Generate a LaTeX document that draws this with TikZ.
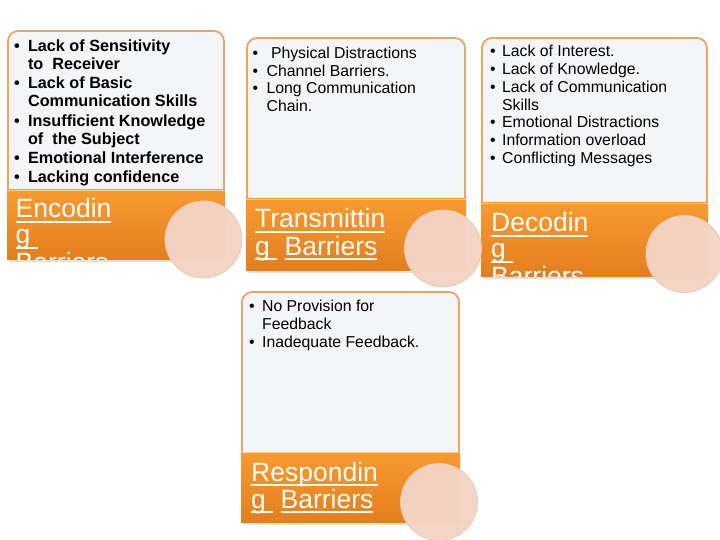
\documentclass[tikz,border=0pt]{standalone}
\usepackage{fontspec}
\setmainfont{Liberation Sans}
\definecolor{paper}{HTML}{F4F5F7}
\definecolor{cardline}{HTML}{EBA466}
\definecolor{bandtop}{HTML}{F99A2E}
\definecolor{bandbot}{HTML}{E47E1E}
\definecolor{bandhl}{HTML}{FBD08A}
\definecolor{disc}{HTML}{F3D4C4}
\definecolor{discline}{HTML}{EACBBB}
\newsavebox\ulbox
\newcommand\myul[1]{\sbox\ulbox{#1}\rlap{\rule[-4.6pt]{\wd\ulbox}{1.9pt}}\usebox\ulbox}
\newcommand\card[5]{%
  \filldraw[cardbody] (#1,#4) -- (#1,#3) -- (#2,#3) -- (#2,#4);
  \fill[black,opacity=0.12] (#1+1,#5) rectangle (#2-1,#5+2.5);
  \shade[top color=bandtop, bottom color=bandbot] (#1-1,#4) rectangle (#2+1,#5);
  \draw[bandhl, line width=1.4pt] (#1-1,#4+0.7) -- (#2+1,#4+0.7);
}
\tikzset{
  cardbody/.style={fill=paper, draw=cardline, line width=1.8pt, rounded corners=10pt},
  titletext/.style={text=white, inner sep=0pt, anchor=base west,
    font=\fontsize{26.5}{26}\selectfont},
  boldlist/.style={inner sep=0pt, anchor=base west, text=black,
    font=\fontsize{16.2}{18}\selectfont\bfseries},
  plainlist/.style={inner sep=0pt, anchor=base west, text=black,
    font=\fontsize{15.8}{17.8}\selectfont},
  discstyle/.style={fill=disc, draw=discline, line width=0.8pt, fill opacity=0.97},
}
\begin{document}
\begin{tikzpicture}[x=1pt,y=-1pt]
\useasboundingbox (0,0) rectangle (720,540);
\fill[white] (0,0) rectangle (720,540);

% cards
\card{8}{224}{31}{190}{259}
\card{247}{465}{38}{199}{270}
\card{482}{707}{38}{203}{276}
\card{242}{459}{292}{452}{522}

% titles (clipped to bands)
\begin{scope}
  \clip (7,190) rectangle (225,259);
  \node[titletext] (enc) at (15.5,218) {\begin{tabular}[t]{@{}l@{}}\myul{Encodin}\\\myul{g\ }\\\myul{Barriers}\end{tabular}};
\end{scope}
\begin{scope}
  \clip (246,199) rectangle (466,270);
  \node[titletext] (tra) at (255,228) {\begin{tabular}[t]{@{}l@{}}\myul{Transmittin}\\\myul{g\ }\ \myul{Barriers}\end{tabular}};
\end{scope}
\begin{scope}
  \clip (481,203) rectangle (708,276);
  \node[titletext] (dec) at (491,232) {\begin{tabular}[t]{@{}l@{}}\myul{Decodin}\\\myul{g\ }\\\myul{Barriers}\end{tabular}};
\end{scope}
\begin{scope}
  \clip (241,452) rectangle (460,522);
  \node[titletext] (res) at (251,481) {\begin{tabular}[t]{@{}l@{}}\myul{Respondin}\\\myul{g\ }\ \myul{Barriers}\end{tabular}};
\end{scope}

% bullet lists
\node[boldlist] (enclist) at (13.8,51.7) {\begin{tabular}[t]{@{}l@{\hspace{8.4pt}}l@{}}
\textbullet & Lack of Sensitivity\\
 & to\ \ Receiver\\[1.3pt]
\textbullet & Lack of Basic\\
 & Communication Skills\\[1.3pt]
\textbullet & Insufficient Knowledge\\
 & of\ \ the Subject\\[1.3pt]
\textbullet & Emotional Interference\\[1.3pt]
\textbullet & Lacking confidence
\end{tabular}};

\node[plainlist] (tralist) at (252.3,58.3) {\begin{tabular}[t]{@{}l@{\hspace{8.6pt}}l@{}}
\textbullet & \ Physical Distractions\\
\textbullet & Channel Barriers.\\
\textbullet & Long Communication\\
 & Chain.
\end{tabular}};

\node[plainlist] (declist) at (489.8,56.7) {\begin{tabular}[t]{@{}l@{\hspace{6.6pt}}l@{}}
\textbullet & Lack of Interest.\\
\textbullet & Lack of Knowledge.\\
\textbullet & Lack of Communication\\
 & Skills\\
\textbullet & Emotional Distractions\\
\textbullet & Information overload\\
\textbullet & Conflicting Messages
\end{tabular}};

\node[plainlist] (reslist) at (248.8,311.7) {\begin{tabular}[t]{@{}l@{\hspace{7.6pt}}l@{}}
\textbullet & No Provision for\\
 & Feedback\\
\textbullet & Inadequate Feedback.
\end{tabular}};

% discs
\path[discstyle] (203.5,239.5) circle (38.5);
\path[discstyle] (443,248.5) circle (38.5);
\path[discstyle] (684.5,254) circle (38.5);
\path[discstyle] (439,502) circle (38.5);
\end{tikzpicture}
\end{document}
